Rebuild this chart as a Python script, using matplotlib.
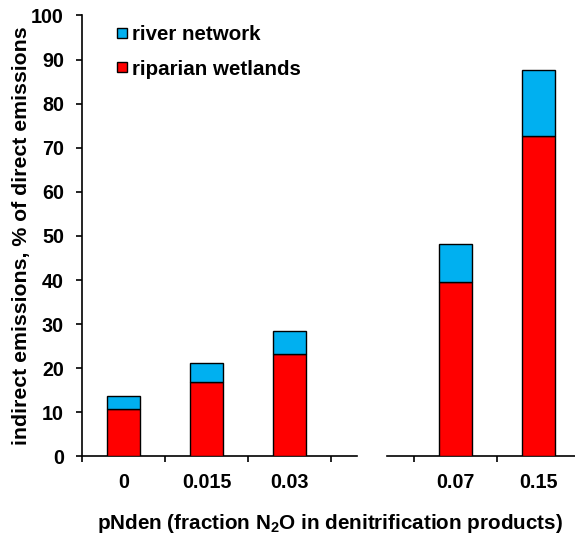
import matplotlib.pyplot as plt
import numpy as np
from matplotlib.lines import Line2D

plt.rcParams['font.family'] = ['Liberation Sans', 'DejaVu Sans']
plt.rcParams['font.weight'] = 'bold'
plt.rcParams['mathtext.fontset'] = 'custom'
plt.rcParams['mathtext.bf'] = 'Liberation Sans:bold'
plt.rcParams['mathtext.rm'] = 'Liberation Sans:bold'

categories = ['0', '0.015', '0.03', '0.07', '0.15']
riparian = [10.7, 16.9, 23.2, 39.6, 72.7]
river = [2.9, 4.2, 5.2, 8.6, 14.9]
yticks = [0, 10, 20, 30, 40, 50, 60, 70, 80, 90, 100]

red = '#FF0000'
blue = '#00B0F0'

fig = plt.figure(figsize=(5.75, 5.37), dpi=100)
ax1 = fig.add_axes([0.1426, 0.1501, 0.4783, 0.8212])
ax2 = fig.add_axes([0.6730, 0.1501, 0.3270, 0.8212])

# one empty slot between the two groups
idx = np.arange(len(categories))
pos = idx + (idx >= 3)

for ax in (ax1, ax2):
    ax.bar(pos, riparian, width=0.4, color=red, edgecolor='black', linewidth=1, zorder=3)
    ax.bar(pos, river, width=0.4, bottom=riparian, color=blue, edgecolor='black',
           linewidth=1, zorder=3)
    ax.set_ylim(0, 100)
    ax.set_xticks(pos)
    ax.set_xticklabels(categories, fontsize=14.2, fontweight='bold')
    ax.set_xticks(np.arange(-0.5, 6, 1), minor=True)
    ax.tick_params(axis='x', which='major', length=0, pad=12)
    ax.tick_params(axis='x', which='minor', length=4, width=1.2, direction='out')
    ax.spines['top'].set_visible(False)
    ax.spines['right'].set_visible(False)
    ax.spines['bottom'].set_linewidth(1.2)

ax1.set_xlim(-0.5, 2.81)
ax2.set_xlim(3.175, 5.44)

ax1.set_yticks(yticks)
ax1.set_yticklabels([str(v) for v in yticks], fontsize=14.2, fontweight='bold')
ax1.tick_params(axis='y', length=4, width=1.2, pad=9)
ax1.spines['left'].set_linewidth(1.2)
ax1.set_ylabel('indirect emissions, % of direct emissions', fontsize=15.3,
               fontweight='bold', labelpad=0)

ax2.spines['left'].set_visible(False)
ax2.set_yticks([])

fig.text(0.573, 0.026, 'pNden (fraction N$_\\mathbf{2}$O in denitrification products)',
         ha='center', va='center', fontsize=14.9, fontweight='bold')

handles = [
    Line2D([], [], marker='s', linestyle='', markersize=7.5, markerfacecolor=blue,
           markeredgecolor='black', markeredgewidth=1),
    Line2D([], [], marker='s', linestyle='', markersize=7.5, markerfacecolor=red,
           markeredgecolor='black', markeredgewidth=1),
]
ax1.legend(handles, ['river network', 'riparian wetlands'], loc='upper left',
           bbox_to_anchor=(0.052, 1.02), frameon=False, handlelength=0.7,
           handletextpad=0.15, labelspacing=0.75,
           prop={'size': 14.8, 'weight': 'bold'})

fig.savefig('out.png', dpi=100)
